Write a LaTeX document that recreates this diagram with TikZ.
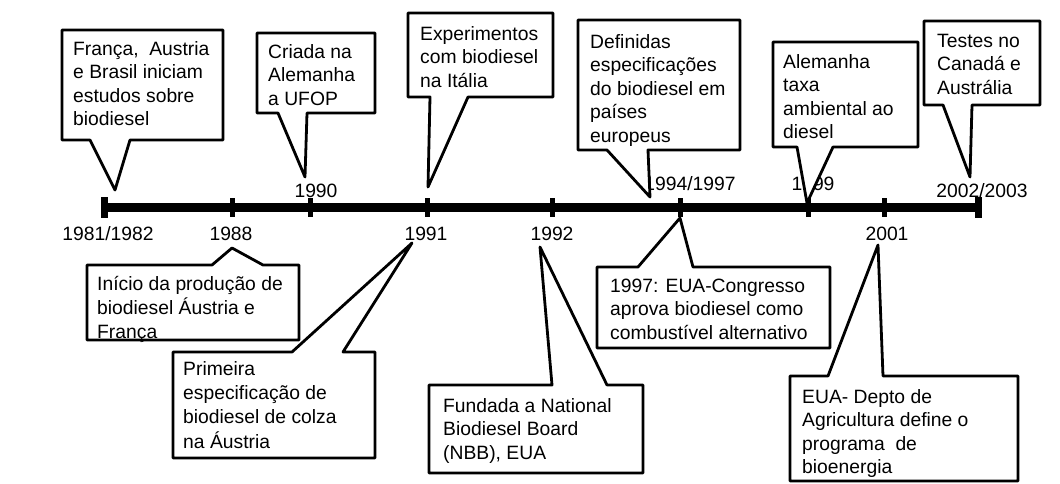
\documentclass[tikz,border=0pt]{standalone}
\usepackage{fontspec}
\setmainfont{Liberation Sans}
% callout with its pointer on the lower edge: L, T, R, B, pointer base left, pointer base right, tip
\newcommand{\calloutdown}[7]{\draw[callout] (#1,#2) -- (#3,#2) -- (#3,#4) -- (#6,#4) -- #7 -- (#5,#4) -- (#1,#4) -- cycle;}
% callout with its pointer on the upper edge
\newcommand{\calloutup}[7]{\draw[callout] (#1,#4) -- (#1,#2) -- (#5,#2) -- #7 -- (#6,#2) -- (#3,#2) -- (#3,#4) -- cycle;}
\begin{document}
\begin{tikzpicture}[x=1pt,y=-1pt,
  callout/.style={draw=black, fill=white, line width=2.8pt, line join=round},
  timebar/.style={line width=9pt},
  yeartick/.style={line width=5pt},
  endtick/.style={line width=7pt},
  year/.style={anchor=base, inner sep=0pt, font=\fontsize{19.3}{23.5}\selectfont},
  txt/.style={anchor=north west, inner sep=0pt, align=left, font=\fontsize{19.3}{23.5}\selectfont}]
\useasboundingbox[fill=white] (0,0) rectangle (1060,484);

% time axis
\coordinate (start) at (104,207);
\coordinate (end) at (978,207);
\draw[timebar] (start) -- (end);
\foreach \x/\n in {104/a,978/b} {\draw[endtick] (\x,197) -- (\x,218);}
\foreach \x in {232,310,427,552,680,808,884} {\draw[yeartick] (\x,198) -- (\x,217);}

% years
\node[year] (y8182) at (108,240) {1981/1982};
\node[year] (y88) at (231,240) {1988};
\node[year] (y90) at (316,197) {1990};
\node[year] (y91) at (426,240) {1991};
\node[year] (y92) at (552,240) {1992};
\node[year] (y9497) at (690,190) {1994/1997};
\node[year] (y99) at (813,190) {1999};
\node[year] (y01) at (887,240) {2001};
\node[year] (y0203) at (982,197) {2002/2003};

% pointer tips
\coordinate (p1) at (115,190);
\coordinate (p2) at (305,177);
\coordinate (p3) at (428,187);
\coordinate (p4) at (650,197);
\coordinate (p5) at (807,203);
\coordinate (p6) at (970,177);
\coordinate (p7) at (232,248);
\coordinate (p8) at (412,243);
\coordinate (p9) at (540,247);
\coordinate (p10) at (680,218);
\coordinate (p11) at (878,245);

% callouts above the axis
\calloutdown{62}{30}{223}{140}{90}{130}{(p1)}
\calloutdown{257}{33}{375}{113}{278}{307}{(p2)}
\calloutdown{408}{13}{553}{97}{430}{468}{(p3)}
\calloutdown{578}{20}{740}{150}{607}{648}{(p4)}
\calloutdown{773}{42}{918}{147}{797}{833}{(p5)}
\calloutdown{924}{21}{1040}{105}{943}{972}{(p6)}
% callouts below the axis
\calloutup{87}{265}{299}{340}{212}{263}{(p7)}
\calloutup{173}{352}{375}{458}{292}{343}{(p8)}
\calloutup{429}{385}{643}{473}{552}{607}{(p9)}
\calloutup{597}{267}{830}{348}{638}{693}{(p10)}
\calloutup{790}{376}{1018}{481}{828}{883}{(p11)}

% texts
\node[txt] (t1) at (73,38.55) {\strut França, \ Austria\\e Brasil iniciam\\estudos sobre\\biodiesel};
\node[txt] (t2) at (268,41.55) {\strut Criada na\\Alemanha\\a UFOP};
\node[txt] (t3) at (420,23.55) {\strut Experimentos\\com biodiesel\\na Itália};
\node[txt] (t4) at (590,31.55) {\strut Definidas\\especificações\\do biodiesel em\\países\\europeus};
\node[txt] (t5) at (783,51.55) {\strut Alemanha\\taxa\\ambiental ao\\diesel};
\node[txt] (t6) at (937,30.55) {\strut Testes no\\Canadá e\\Austrália};
\node[txt] (t7) at (97,273.55) {\strut Início da produção de\\biodiesel Áustria e\\França};
\node[txt, font=\fontsize{19.3}{24.3}\selectfont] (t8) at (183,358) {\strut Primeira\\especificação de\\biodiesel de colza\\na Áustria};
\node[txt] (t9) at (443,395.55) {\strut Fundada a National\\Biodiesel Board\\(NBB), EUA};
\node[txt] (t10) at (610,275.55) {\strut 1997: EUA-Congresso\\aprova biodiesel como\\combustível alternativo};
\node[txt] (t11) at (802,386.55) {\strut EUA- Depto de\\Agricultura define o\\programa \ de\\bioenergia};
\end{tikzpicture}
\end{document}
